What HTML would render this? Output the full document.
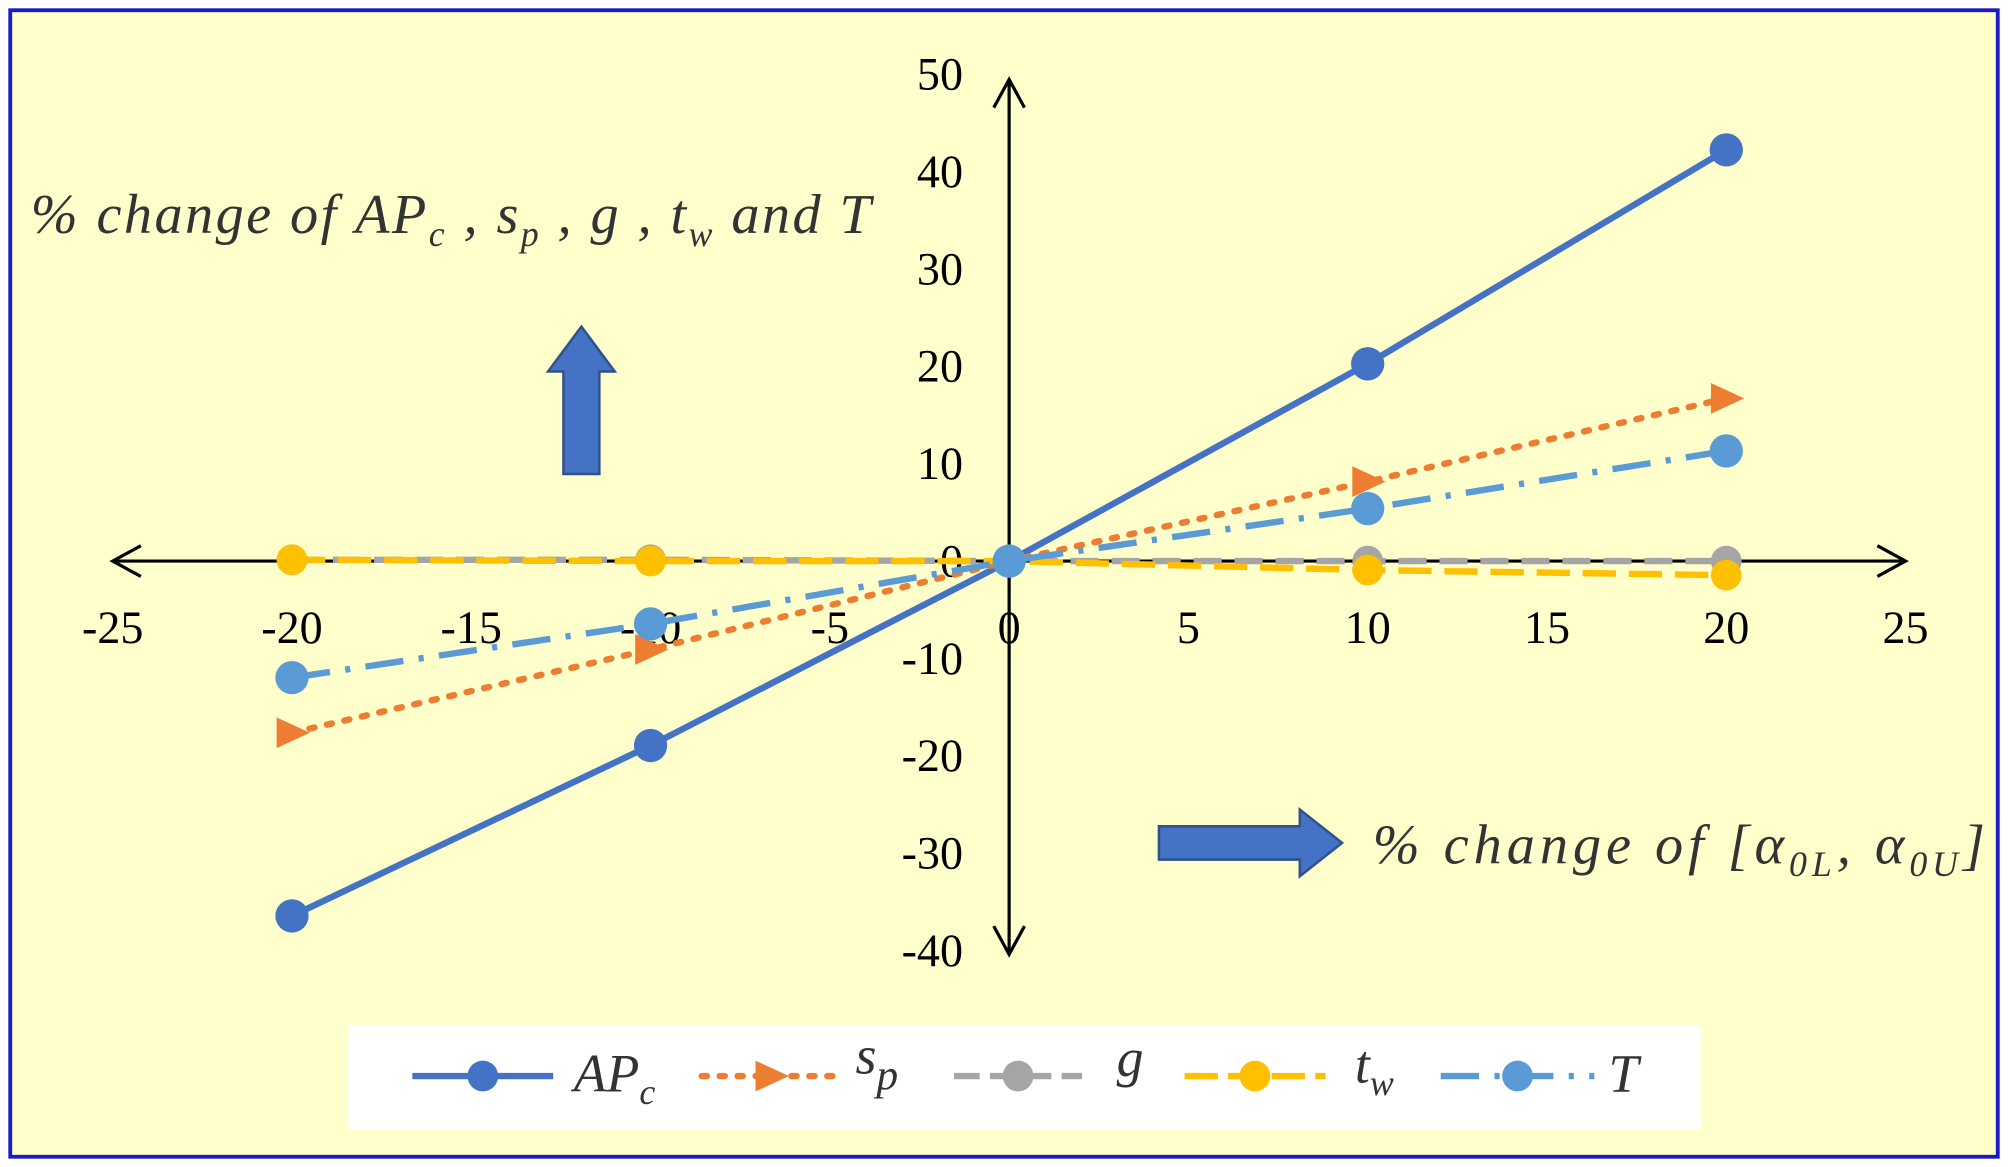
<!DOCTYPE html>
<html><head><meta charset="utf-8"><style>
html,body{margin:0;padding:0;background:#fff;}
svg{display:block;}
text{font-family:"Liberation Serif",serif;}
</style></head><body>
<svg width="2008" height="1167" viewBox="0 0 1568 911" preserveAspectRatio="none" xmlns="http://www.w3.org/2000/svg">
<rect x="0" y="0" width="1568" height="911" fill="#fff"/>
<rect x="8" y="8" width="1552" height="895" fill="#FFFFCC" stroke="#1a1acc" stroke-width="3"/>
<g stroke="#000" stroke-width="2.5" fill="none">
<line x1="88" y1="438" x2="1488" y2="438"/>
<polyline points="110,426 88,438 110,450"/>
<polyline points="1466,426 1488,438 1466,450"/>
<line x1="788" y1="62" x2="788" y2="745"/>
<polyline points="776,84 788,62 800,84"/>
<polyline points="776,723 788,745 800,723"/>
</g>
<g font-size="36" fill="#000" text-anchor="middle">
<text x="88" y="502">-25</text><text x="228" y="502">-20</text><text x="368" y="502">-15</text>
<text x="508" y="502">-10</text><text x="648" y="502">-5</text><text x="788" y="502">0</text>
<text x="928" y="502">5</text><text x="1068" y="502">10</text><text x="1208" y="502">15</text>
<text x="1348" y="502">20</text><text x="1488" y="502">25</text>
</g>
<g font-size="36" fill="#000" text-anchor="end">
<text x="752" y="70">50</text><text x="752" y="146">40</text><text x="752" y="222">30</text>
<text x="752" y="298">20</text><text x="752" y="374">10</text><text x="752" y="450">0</text>
<text x="752" y="526">-10</text><text x="752" y="602">-20</text><text x="752" y="678">-30</text>
<text x="752" y="754">-40</text>
</g>
<g stroke-width="5" fill="none">
<polyline stroke="#4472C4" points="228,715 508,582 788,438 1068,284 1348,117"/>
<polyline stroke="#ED7D31" stroke-dasharray="4,10" stroke-linecap="round" points="228,572 508,507 788,438 1068,376 1348,311"/>
<polyline stroke="#A5A5A5" stroke-dasharray="22,10" points="228,437 508,437 788,438 1068,438 1348,438"/>
<polyline stroke="#FFC000" stroke-dasharray="26,10" points="228,437 508,438 788,438 1068,445 1348,449"/>
<polyline stroke="#5B9BD5" stroke-dasharray="30,12,4,12" points="228,529 508,487 788,438 1068,397 1348,352"/>
</g>
<g fill="#4472C4"><circle cx="228" cy="715" r="13"/><circle cx="508" cy="582" r="13"/><circle cx="1068" cy="284" r="13"/><circle cx="1348" cy="117" r="13"/></g>
<g fill="#ED7D31"><path d="M216,560 L242,572 L216,584 Z"/><path d="M496,495 L522,507 L496,519 Z"/><path d="M1056,364 L1082,376 L1056,388 Z"/><path d="M1336,299 L1362,311 L1336,323 Z"/></g>
<g fill="#A5A5A5"><circle cx="228" cy="437" r="12"/><circle cx="508" cy="437" r="12"/><circle cx="1068" cy="438" r="12"/><circle cx="1348" cy="438" r="12"/></g>
<g fill="#FFC000"><circle cx="228" cy="437" r="12"/><circle cx="508" cy="438" r="12"/><circle cx="788" cy="438" r="12"/><circle cx="1068" cy="445" r="12"/><circle cx="1348" cy="449" r="12"/></g>
<g fill="#5B9BD5"><circle cx="228" cy="529" r="13"/><circle cx="508" cy="487" r="13"/><circle cx="788" cy="438" r="13"/><circle cx="1068" cy="397" r="13"/><circle cx="1348" cy="352" r="13"/></g>
<text x="24" y="182" font-size="44" font-style="italic" fill="#333" textLength="656" lengthAdjust="spacing">% change of <tspan>AP</tspan><tspan font-size="28" dy="10">c</tspan><tspan dy="-10"> , s</tspan><tspan font-size="28" dy="10">p</tspan><tspan dy="-10"> , g , t</tspan><tspan font-size="28" dy="10">w</tspan><tspan dy="-10"> and T</tspan></text>
<text x="1072" y="674" font-size="44" font-style="italic" fill="#333" textLength="478" lengthAdjust="spacing">% change of [α<tspan font-size="28" dy="10">0L</tspan><tspan dy="-10">, α</tspan><tspan font-size="28" dy="10">0U</tspan><tspan dy="-10">]</tspan></text>
<path d="M440,370 L440,290 L428,290 L454,255 L480,290 L468,290 L468,370 Z" fill="#4472C4" stroke="#2F528F" stroke-width="2"/>
<path d="M905,645 L1015,645 L1015,632 L1048,658 L1015,684 L1015,671 L905,671 Z" fill="#4472C4" stroke="#2F528F" stroke-width="2"/>
<rect x="272" y="800" width="1056" height="82" fill="#fff"/>
<g stroke-width="5">
<line x1="322" y1="840" x2="432" y2="840" stroke="#4472C4"/><circle cx="377" cy="840" r="12" fill="#4472C4"/>
<line x1="548" y1="840" x2="658" y2="840" stroke="#ED7D31" stroke-dasharray="4,10" stroke-linecap="round"/><path d="M590,828 L616,840 L590,852 Z" fill="#ED7D31"/>
<line x1="745" y1="840" x2="845" y2="840" stroke="#A5A5A5" stroke-dasharray="20,8"/><circle cx="795" cy="840" r="12" fill="#A5A5A5"/>
<line x1="925" y1="840" x2="1035" y2="840" stroke="#FFC000" stroke-dasharray="26,8"/><circle cx="980" cy="840" r="12" fill="#FFC000"/>
<line x1="1125" y1="840" x2="1245" y2="840" stroke="#5B9BD5" stroke-dasharray="30,12,4,12"/><circle cx="1185" cy="840" r="12" fill="#5B9BD5"/>
</g>
<g font-size="42" font-style="italic" fill="#333">
<text x="448" y="852">AP<tspan font-size="28" dy="10">c</tspan></text>
<text x="668" y="838">s<tspan font-size="34" dy="12">p</tspan></text>
<text x="872" y="840">g</text>
<text x="1058" y="845">t<tspan font-size="28" dy="10">w</tspan></text>
<text x="1256" y="852">T</text>
</g>
</svg>
</body></html>
